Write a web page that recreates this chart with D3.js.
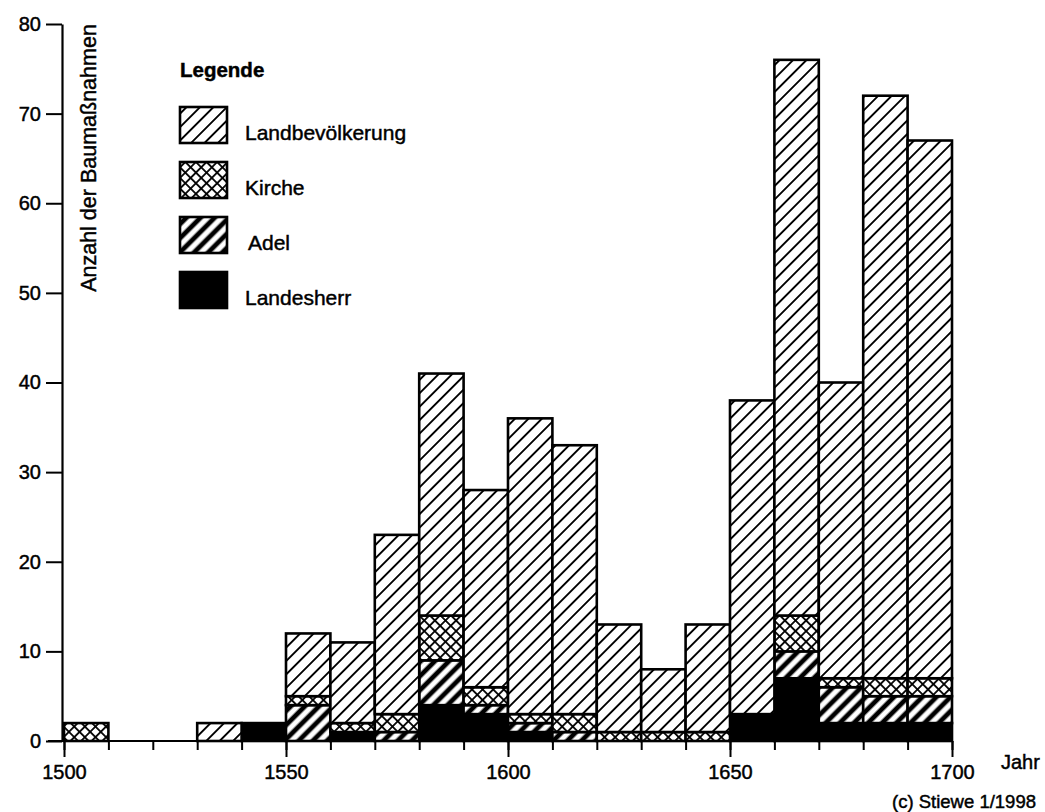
<!DOCTYPE html>
<html>
<head>
<meta charset="utf-8">
<script src="https://cdn.jsdelivr.net/npm/d3@7"></script>
<style>
  body { margin: 0; background: #fff; }
  text { font-family: "Liberation Sans", Arial, sans-serif; fill: #000; stroke: #000; stroke-width: 0.45px; }
</style>
</head>
<body>
<svg id="chart" width="1045" height="812"></svg>
<script>
// Jahrzehnte (Beginn) und Anzahl der Baumassnahmen je Bauherr
const decades = [1500, 1510, 1520, 1530, 1540, 1550, 1560, 1570, 1580, 1590,
                 1600, 1610, 1620, 1630, 1640, 1650, 1660, 1670, 1680, 1690]
const landesherr       = [0, 0, 0, 0, 2, 0, 1, 0, 4, 3, 1, 0, 0, 0, 0, 3, 7, 2, 2, 2]
const adel             = [0, 0, 0, 0, 0, 4, 0, 1, 5, 1, 1, 1, 0, 0, 0, 0, 3, 4, 3, 3]
const kirche           = [2, 0, 0, 0, 0, 1, 1, 2, 5, 2, 1, 2, 1, 1, 1, 0, 4, 1, 2, 2]
const landbevoelkerung = [0, 0, 0, 2, 0, 7, 9, 20, 27, 22, 33, 30, 12, 7, 12, 35, 62, 33, 65, 60]

const yTicks = [0, 10, 20, 30, 40, 50, 60, 70, 80]
const xLabels = [1500, 1550, 1600, 1650, 1700]

const keys = ["landesherr", "adel", "kirche", "landbevoelkerung"]
const legendNames = {
	landbevoelkerung: "Landbevölkerung",
	kirche: "Kirche",
	adel: "Adel",
	landesherr: "Landesherr"
}

const rows = decades.map((d, i) => ({
	decade: d,
	landesherr: landesherr[i],
	adel: adel[i],
	kirche: kirche[i],
	landbevoelkerung: landbevoelkerung[i]
}))

const svg = d3.select("#chart")

const x = d3.scaleLinear().domain([1500, 1700]).range([64, 952])
const y = d3.scaleLinear().domain([0, 80]).range([741, 24])

// schraffuren
const defs = svg.append("defs")

function hatch(id, size, width, cross) {
	const p = defs.append("pattern")
		.attr("id", id)
		.attr("patternUnits", "userSpaceOnUse")
		.attr("width", size)
		.attr("height", size)
		.attr("patternTransform", "rotate(45)")
	p.append("rect").attr("width", size).attr("height", size).attr("fill", "#fff")
	p.append("line")
		.attr("x1", size / 2).attr("x2", size / 2)
		.attr("y1", 0).attr("y2", size)
		.attr("stroke", "#000").attr("stroke-width", width)
	if (cross) {
		p.append("line")
			.attr("y1", size / 2).attr("y2", size / 2)
			.attr("x1", 0).attr("x2", size)
			.attr("stroke", "#000").attr("stroke-width", width)
	}
}
hatch("p-land", 9.5, 1.9, false)
hatch("p-kirche", 7.5, 1.8, true)
hatch("p-adel", 10, 4.8, false)

const fills = {
	landbevoelkerung: "url(#p-land)",
	kirche: "url(#p-kirche)",
	adel: "url(#p-adel)",
	landesherr: "#000"
}

// balken
const series = d3.stack().keys(keys)(rows)

svg.append("g")
	.selectAll("g")
	.data(series)
	.join("g")
		.attr("fill", s => fills[s.key])
	.selectAll("rect")
	.data(s => s.filter(d => d[1] > d[0]))
	.join("rect")
		.attr("x", d => x(d.data.decade))
		.attr("width", d => x(d.data.decade + 10) - x(d.data.decade))
		.attr("y", d => y(d[1]))
		.attr("height", d => y(d[0]) - y(d[1]))
		.attr("stroke", "#000")
		.attr("stroke-width", 2.6)

// y-achse
const yAxis = svg.append("g")
	.attr("transform", `translate(${x(1500) - 2},0)`)
	.call(d3.axisLeft(y).tickValues(yTicks).tickSize(16).tickSizeOuter(0).tickPadding(5))
yAxis.select(".domain").attr("stroke-width", 2.2)
yAxis.selectAll(".tick line").attr("stroke-width", 2)
yAxis.selectAll(".tick text")
	.style("font-size", "20px")
	.attr("fill", "#000")

// x-achse
const xAxisMinor = svg.append("g")
	.attr("transform", `translate(0,${y(0)})`)
	.call(d3.axisBottom(x).tickValues(decades.concat([1700])).tickSize(9).tickFormat(""))
xAxisMinor.select(".domain").remove()
xAxisMinor.selectAll(".tick line").attr("stroke-width", 2)

const xAxis = svg.append("g")
	.attr("transform", `translate(0,${y(0)})`)
	.call(d3.axisBottom(x).tickValues(xLabels).tickSize(16).tickPadding(8).tickFormat(d3.format("d")))
xAxis.select(".domain").remove()
xAxis.selectAll(".tick line").attr("stroke-width", 2)
xAxis.selectAll(".tick text")
	.style("font-size", "20px")
	.attr("fill", "#000")

svg.append("line")
	.attr("x1", x(1500) - 16).attr("x2", x(1700))
	.attr("y1", y(0)).attr("y2", y(0))
	.attr("stroke", "#000").attr("stroke-width", 2.2)

// beschriftung
svg.append("text")
	.attr("transform", "translate(96,158) rotate(-90)")
	.attr("text-anchor", "middle")
	.style("font-size", "21.5px")
	.text("Anzahl der Baumaßnahmen")

svg.append("text")
	.attr("x", 1001).attr("y", 769)
	.style("font-size", "20px")
	.text("Jahr")

svg.append("text")
	.attr("x", 892).attr("y", 808)
	.style("font-size", "18.5px")
	.text("(c) Stiewe 1/1998")

// legende
const legend = svg.append("g").attr("transform", "translate(180,0)")
legend.append("text")
	.attr("x", 0).attr("y", 77)
	.style("font-size", "20.5px")
	.style("font-weight", "bold")
	.text("Legende")

const legendKeys = ["landbevoelkerung", "kirche", "adel", "landesherr"]
const item = legend.selectAll(".item")
	.data(legendKeys)
	.join("g")
		.attr("class", "item")
		.attr("transform", (d, i) => `translate(0,${107 + i * 55})`)

item.append("rect")
	.attr("width", 47).attr("height", 36)
	.attr("fill", d => fills[d])
	.attr("stroke", "#000")
	.attr("stroke-width", 2.6)

item.append("text")
	.attr("x", d => d === "adel" ? 68 : 65)
	.attr("y", 33)
	.style("font-size", "21px")
	.text(d => legendNames[d])
</script>
</body>
</html>
